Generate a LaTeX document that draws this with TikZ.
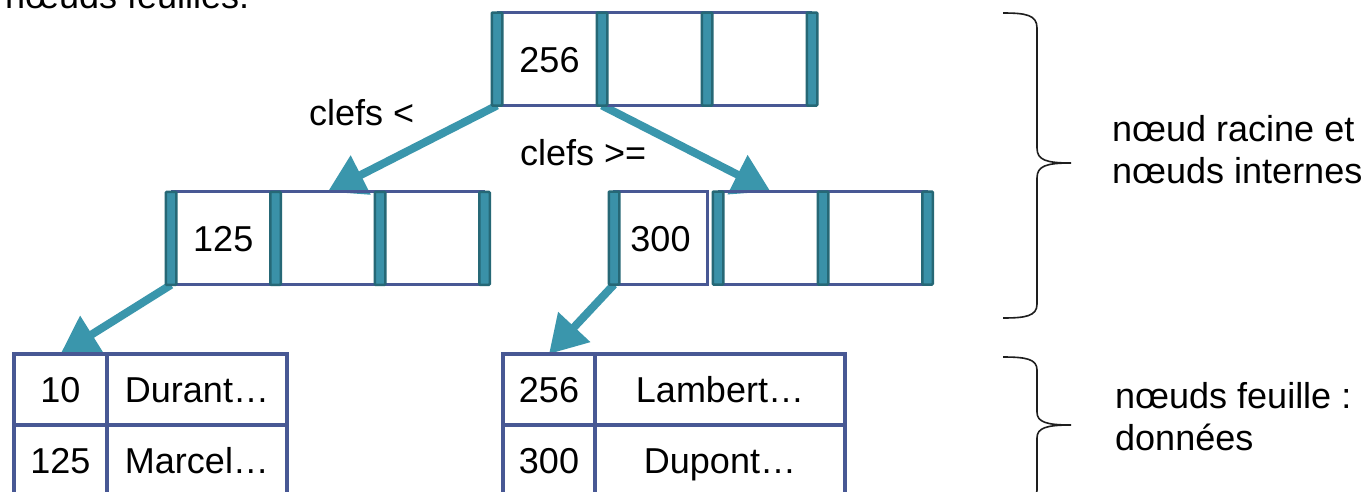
\documentclass[tikz,border=0pt]{standalone}
\usepackage{fontspec}
\setmainfont{Liberation Sans}
\usetikzlibrary{arrows.meta,backgrounds}

\definecolor{barfill}{RGB}{58,145,168}
\definecolor{bardark}{RGB}{38,104,118}
\definecolor{navy}{RGB}{72,88,148}
\definecolor{arrowteal}{RGB}{58,150,172}
\definecolor{braceink}{RGB}{30,30,30}

\tikzset{
  txt/.style={font={\fontsize{36}{36}\selectfont}, inner sep=0pt},
  barbox/.style={draw=bardark, fill=barfill, line width=2.5pt, rounded corners=1pt,
    minimum width=10.5pt, minimum height=93pt, inner sep=0pt, outer sep=0pt},
  keycell/.style={txt, text height=26pt, text depth=0pt, minimum height=93pt, outer sep=0pt},
  rim/.style={draw=navy, line width=3pt},
  leafcell/.style={draw=navy, line width=3.5pt, txt, text height=26pt, text depth=0pt,
    minimum height=71pt, outer sep=0pt},
  link/.style={draw=arrowteal, line width=8pt, -{Triangle[length=37pt,width=42pt]}},
  brace/.style={draw=braceink, line width=1.6pt},
}

\begin{document}
\begin{tikzpicture}[x=1pt,y=-1pt]
\useasboundingbox (0,0) rectangle (1367,491);
\clip (0,0) rectangle (1367,491);

% tail of the preceding line of text
\node[txt, anchor=base west] (prev) at (5,8) {nœuds feuilles.};

% root node: 256 | _ | _
\node[keycell, minimum width=93pt] (r1) at (549.5,59) {256};
\node[keycell, minimum width=93pt] (r2) at (654.5,59) {};
\node[keycell, minimum width=93pt] (r3) at (759.5,59) {};
\node[barbox] (rb1) at (497,59) {};
\node[barbox] (rb2) at (602,59) {};
\node[barbox] (rb3) at (707,59) {};
\node[barbox] (rb4) at (812,59) {};

% left internal node: 125 | _ | _
\node[keycell, minimum width=92pt] (l1) at (223.25,238.3) {125};
\node[keycell, minimum width=92pt] (l2) at (327.75,238.3) {};
\node[keycell, minimum width=92pt] (l3) at (432.25,238.3) {};
\node[barbox] (lb1) at (171,238.3) {};
\node[barbox] (lb2) at (275.5,238.3) {};
\node[barbox] (lb3) at (380,238.3) {};
\node[barbox] (lb4) at (484.5,238.3) {};

% right internal node: 300 || _ | _
\node[keycell, draw=navy, line width=3pt, minimum width=93pt] (q1) at (660.5,238) {300};
\node[keycell, minimum width=93pt] (q2) at (770.5,238) {};
\node[keycell, minimum width=93pt] (q3) at (875.25,238) {};
\node[barbox] (qb1) at (614,238) {};
\node[barbox] (qb2) at (718,238) {};
\node[barbox] (qb3) at (823,238) {};
\node[barbox] (qb4) at (927.5,238) {};

% leaf nodes (data)
\node[leafcell, minimum width=93pt]  (a1) at (60.5,389.5) {10};
\node[leafcell, minimum width=180pt] (a2) at (197,389.5) {Durant…};
\node[leafcell, minimum width=93pt]  (a3) at (60.5,460.5) {125};
\node[leafcell, minimum width=180pt] (a4) at (197,460.5) {Marcel…};
\node[leafcell, minimum width=92pt]  (b1) at (549,389.5) {256};
\node[leafcell, minimum width=250pt] (b2) at (720,389.5) {Lambert…};
\node[leafcell, minimum width=92pt]  (b3) at (549,460.5) {300};
\node[leafcell, minimum width=250pt] (b4) at (720,460.5) {Dupont…};

% page ground, pointers and rims sit behind the bars
\begin{scope}[on background layer]
  \fill[white] (0,0) rectangle (1367,491);
  \draw[link] (rb1.south) -- (l2.north);
  \draw[link] (rb2.south) -- (q2.north);
  \draw[link] (lb1.south) -- (a1.north);
  \draw[link] (qb1.south) -- (b1.north);
  \draw[rim] (rb1.north) -- (rb4.north);
  \draw[rim] (rb1.south) -- (rb4.south);
  \draw[rim] (lb1.north) -- (lb4.north);
  \draw[rim] (lb1.south) -- (lb4.south);
  \draw[rim] (qb2.north) -- (qb4.north);
  \draw[rim] (qb2.south) -- (qb4.south);
\end{scope}

% key ranges
\node[txt, anchor=base west] (lt) at (309,125) {clefs <};
\node[txt, anchor=base west] (ge) at (520,165) {clefs >=};

% braces and captions
\draw[brace] (1003,13) .. controls (1026,13) and (1037,15) .. (1037,28)
  -- (1037,148) .. controls (1037,160) and (1046,163) .. (1071,163)
  .. controls (1046,163) and (1037,166) .. (1037,178)
  -- (1037,304) .. controls (1037,316) and (1026,318) .. (1003,318);
\draw[brace] (1003,357) .. controls (1026,357) and (1037,359) .. (1037,370)
  -- (1037,412) .. controls (1037,422) and (1046,425) .. (1071,425)
  .. controls (1046,425) and (1037,428) .. (1037,438)
  -- (1037,490) .. controls (1037,500) and (1026,503) .. (1003,503);

\node[txt, anchor=base west] (c1) at (1112,141) {nœud racine et};
\node[txt, anchor=base west] (c2) at (1112,183) {nœuds internes};
\node[txt, anchor=base west] (c3) at (1115,408) {nœuds feuille :};
\node[txt, anchor=base west] (c4) at (1115,450) {données};
\end{tikzpicture}
\end{document}
